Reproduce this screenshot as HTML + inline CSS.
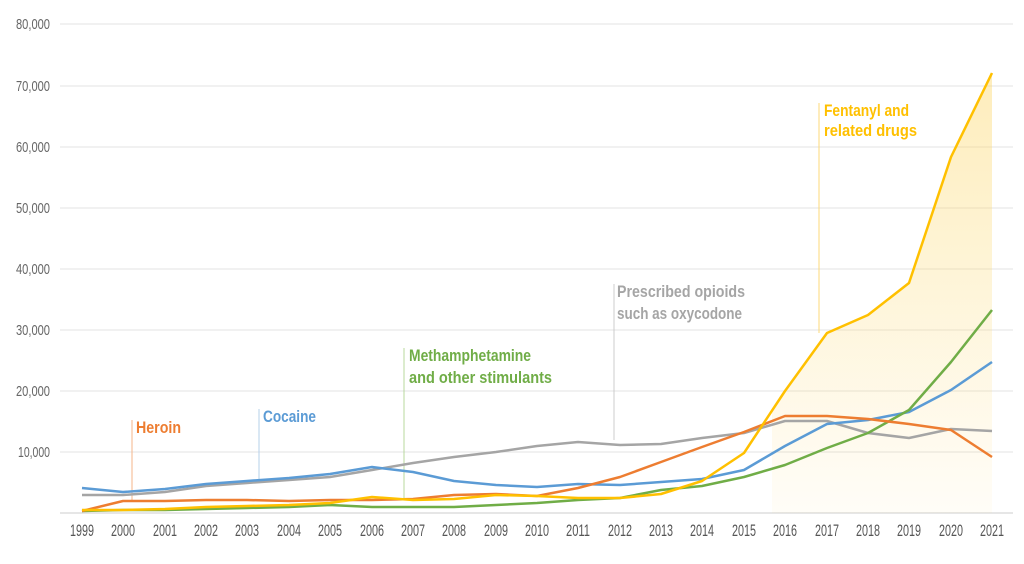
<!DOCTYPE html>
<html><head><meta charset="utf-8"><style>
body{margin:0;background:#fff}
svg text{font-family:"Liberation Sans Narrow","Liberation Sans",sans-serif;}
</style></head><body>
<svg width="1024" height="559" viewBox="0 0 1024 559" xmlns="http://www.w3.org/2000/svg">
<defs><linearGradient id="g" x1="0" y1="0" x2="0" y2="1">
<stop offset="0" stop-color="#fdd76a" stop-opacity="0.45"/><stop offset="1" stop-color="#fdd76a" stop-opacity="0.05"/></linearGradient></defs>
<g stroke="#e3e3e3" stroke-width="1">
<line x1="60" x2="1013" y1="24" y2="24"/><line x1="60" x2="1013" y1="86" y2="86"/><line x1="60" x2="1013" y1="147" y2="147"/><line x1="60" x2="1013" y1="208" y2="208"/><line x1="60" x2="1013" y1="269" y2="269"/><line x1="60" x2="1013" y1="330" y2="330"/><line x1="60" x2="1013" y1="391" y2="391"/><line x1="60" x2="1013" y1="452" y2="452"/><line x1="60" x2="1013" y1="513" y2="513" stroke="#ccc"/>
</g>
<g fill="#666" font-size="15">
<text x="16" y="29" textLength="34" lengthAdjust="spacingAndGlyphs">80,000</text><text x="16" y="91" textLength="34" lengthAdjust="spacingAndGlyphs">70,000</text><text x="16" y="152" textLength="34" lengthAdjust="spacingAndGlyphs">60,000</text><text x="16" y="213" textLength="34" lengthAdjust="spacingAndGlyphs">50,000</text><text x="16" y="274" textLength="34" lengthAdjust="spacingAndGlyphs">40,000</text><text x="16" y="335" textLength="34" lengthAdjust="spacingAndGlyphs">30,000</text><text x="16" y="396" textLength="34" lengthAdjust="spacingAndGlyphs">20,000</text><text x="18" y="457" textLength="32" lengthAdjust="spacingAndGlyphs">10,000</text>
</g>
<g fill="#555" font-size="17">
<text x="70" y="536" textLength="24" lengthAdjust="spacingAndGlyphs">1999</text><text x="111" y="536" textLength="24" lengthAdjust="spacingAndGlyphs">2000</text><text x="153" y="536" textLength="24" lengthAdjust="spacingAndGlyphs">2001</text><text x="194" y="536" textLength="24" lengthAdjust="spacingAndGlyphs">2002</text><text x="235" y="536" textLength="24" lengthAdjust="spacingAndGlyphs">2003</text><text x="277" y="536" textLength="24" lengthAdjust="spacingAndGlyphs">2004</text><text x="318" y="536" textLength="24" lengthAdjust="spacingAndGlyphs">2005</text><text x="360" y="536" textLength="24" lengthAdjust="spacingAndGlyphs">2006</text><text x="401" y="536" textLength="24" lengthAdjust="spacingAndGlyphs">2007</text><text x="442" y="536" textLength="24" lengthAdjust="spacingAndGlyphs">2008</text><text x="484" y="536" textLength="24" lengthAdjust="spacingAndGlyphs">2009</text><text x="525" y="536" textLength="24" lengthAdjust="spacingAndGlyphs">2010</text><text x="566" y="536" textLength="24" lengthAdjust="spacingAndGlyphs">2011</text><text x="608" y="536" textLength="24" lengthAdjust="spacingAndGlyphs">2012</text><text x="649" y="536" textLength="24" lengthAdjust="spacingAndGlyphs">2013</text><text x="690" y="536" textLength="24" lengthAdjust="spacingAndGlyphs">2014</text><text x="732" y="536" textLength="24" lengthAdjust="spacingAndGlyphs">2015</text><text x="773" y="536" textLength="24" lengthAdjust="spacingAndGlyphs">2016</text><text x="815" y="536" textLength="24" lengthAdjust="spacingAndGlyphs">2017</text><text x="856" y="536" textLength="24" lengthAdjust="spacingAndGlyphs">2018</text><text x="897" y="536" textLength="24" lengthAdjust="spacingAndGlyphs">2019</text><text x="939" y="536" textLength="24" lengthAdjust="spacingAndGlyphs">2020</text><text x="980" y="536" textLength="24" lengthAdjust="spacingAndGlyphs">2021</text>
</g>
<polygon fill="url(#g)" points="772,410 785,391 827,333 868,315 909,283 951,157 992,73 992,513 772,513"/>
<g stroke-width="1">
<line x1="132" x2="132" y1="420" y2="500" stroke="#f5b58a"/>
<line x1="259" x2="259" y1="409" y2="481" stroke="#b5d0ea"/>
<line x1="404" x2="404" y1="348" y2="500" stroke="#b8d89e"/>
<line x1="614" x2="614" y1="284" y2="440" stroke="#ccc"/>
<line x1="819" x2="819" y1="103" y2="333" stroke="#fcd97a"/>
</g>
<g fill="none" stroke-width="2.5" stroke-linejoin="round">
<polyline stroke="#a5a5a5" points="82,495 123,495 165,492 206,486 247,483 289,480 330,477 372,470 413,463 454,457 496,452 537,446 578,442 620,445 661,444 702,438 744,433 785,421 827,421 868,433 909,438 951,429 992,431"/>
<polyline stroke="#5b9bd5" points="82,488 123,492 165,489 206,484 247,481 289,478 330,474 372,467 413,472 454,481 496,485 537,487 578,484 620,485 661,482 702,479 744,470 785,446 827,424 868,420 909,412 951,390 992,362"/>
<polyline stroke="#70ad47" points="82,511 123,510 165,510 206,509 247,508 289,507 330,505 372,507 413,507 454,507 496,505 537,503 578,500 620,498 661,490 702,486 744,477 785,465 827,448 868,433 909,410 951,362 992,310"/>
<polyline stroke="#ed7d31" points="82,511 123,501 165,501 206,500 247,500 289,501 330,500 372,500 413,499 454,495 496,494 537,496 578,488 620,477 661,462 702,447 744,432 785,416 827,416 868,419 909,424 951,430 992,457"/>
<polyline stroke="#ffc000" points="82,510 123,510 165,509 206,507 247,506 289,505 330,503 372,497 413,500 454,499 496,495 537,496 578,498 620,498 661,494 702,481 744,453 785,391 827,333 868,315 909,283 951,157 992,73"/>
</g>
<g font-size="17" font-weight="bold">
<text x="136" y="433" fill="#ed7d31" textLength="45" lengthAdjust="spacingAndGlyphs">Heroin</text>
<text x="263" y="422" fill="#5b9bd5" textLength="53" lengthAdjust="spacingAndGlyphs">Cocaine</text>
<text x="409" y="361" fill="#70ad47" textLength="122" lengthAdjust="spacingAndGlyphs">Methamphetamine</text>
<text x="409" y="383" fill="#70ad47" textLength="143" lengthAdjust="spacingAndGlyphs">and other stimulants</text>
<text x="617" y="297" fill="#a5a5a5" textLength="128" lengthAdjust="spacingAndGlyphs">Prescribed opioids</text>
<text x="617" y="319" fill="#a5a5a5" textLength="125" lengthAdjust="spacingAndGlyphs">such as oxycodone</text>
<text x="824" y="116" fill="#ffc000" textLength="85" lengthAdjust="spacingAndGlyphs">Fentanyl and</text>
<text x="824" y="136" fill="#ffc000" textLength="93" lengthAdjust="spacingAndGlyphs">related drugs</text>
</g>
</svg>
</body></html>
